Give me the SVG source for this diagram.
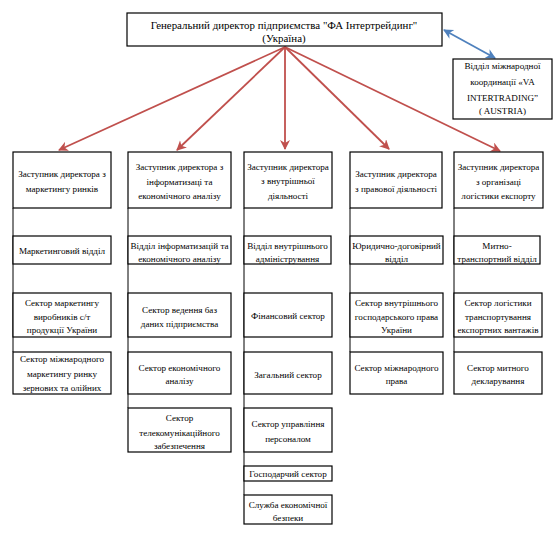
<svg xmlns="http://www.w3.org/2000/svg" width="557" height="538" viewBox="0 0 557 538">
<style>
.b{fill:#fff;stroke:#000;stroke-width:1.2}
text{font-family:'Liberation Serif','Times New Roman',serif;fill:#000;text-anchor:middle}
.t{font-size:9.1px}
.tt{font-size:10.9px}
.v{stroke:#000;stroke-width:1;fill:none}
.r{stroke:#c0504d;stroke-width:1.8;fill:none;marker-end:url(#ar)}
.bl{stroke:#4f81bd;stroke-width:1.8;fill:none;marker-end:url(#ab);marker-start:url(#ab)}
</style>
<defs>
<marker id="ar" markerUnits="userSpaceOnUse" markerWidth="12" markerHeight="12" refX="9" refY="5" orient="auto">
<path d="M0,0 L10,5 L0,10 L3,5 Z" fill="#c0504d"/>
</marker>
<marker id="ab" markerUnits="userSpaceOnUse" markerWidth="12" markerHeight="12" refX="9" refY="5" orient="auto-start-reverse">
<path d="M0,0 L10,5 L0,10 L3,5 Z" fill="#4f81bd"/>
</marker>
</defs>
<rect width="557" height="538" fill="#fff"/>

<g id="connectors">
<line class="v" x1="13" y1="208" x2="13" y2="352"/>
<line class="v" x1="128" y1="208" x2="128" y2="408"/>
<line class="v" x1="244" y1="208" x2="244" y2="495"/>
<line class="v" x1="350" y1="208" x2="350" y2="352"/>
<line class="v" x1="454" y1="208" x2="454" y2="352"/>
<line class="r" x1="285" y1="47" x2="59" y2="150"/>
<line class="r" x1="285" y1="47" x2="177" y2="150"/>
<line class="r" x1="285" y1="47" x2="285" y2="149"/>
<line class="r" x1="285" y1="47" x2="389" y2="149"/>
<line class="r" x1="285" y1="47" x2="500" y2="151"/>
<line class="bl" x1="444" y1="30" x2="495" y2="58"/>
</g>

<g id="gd">
<rect class="b" x="127" y="13" width="315" height="33"/>
<text class="tt" x="284" y="28.5">Генеральний директор підприємства "ФА Інтертрейдинг"</text>
<text class="tt" x="284" y="41.5">(Україна)</text>
</g>

<g id="intl">
<rect class="b" x="453" y="59" width="99" height="60"/>
<text class="t" x="502.5" y="68.5">Відділ міжнародної</text>
<text class="t" x="502.5" y="85">координації «VA</text>
<text class="t" x="502.5" y="100.5">INTERTRADING”</text>
<text class="t" x="502.5" y="113.5">( AUSTRIA)</text>
</g>

<g id="h1">
<rect class="b" x="13" y="152" width="98" height="56"/>
<text class="t" x="62" y="176.5">Заступник директора з</text>
<text class="t" x="62" y="191.5">маркетингу ринків</text>
</g>
<g id="h2">
<rect class="b" x="128" y="152" width="103" height="56"/>
<text class="t" x="179.5" y="169.5">Заступник директора з</text>
<text class="t" x="179.5" y="184.5">інформатизаці та</text>
<text class="t" x="179.5" y="198.5">економічного аналізу</text>
</g>
<g id="h3">
<rect class="b" x="244" y="152" width="88" height="56"/>
<text class="t" x="288" y="169.5">Заступник директора</text>
<text class="t" x="288" y="184">з внутрішньої</text>
<text class="t" x="288" y="198.5">діяльності</text>
</g>
<g id="h4">
<rect class="b" x="350" y="152" width="92" height="56"/>
<text class="t" x="396" y="176.5">Заступник директора</text>
<text class="t" x="396" y="191.5">з правової діяльності</text>
</g>
<g id="h5">
<rect class="b" x="454" y="152" width="89" height="56"/>
<text class="t" x="498.5" y="169.5">Заступник директора</text>
<text class="t" x="498.5" y="184.5">з організаці</text>
<text class="t" x="498.5" y="198.5">логістики експорту</text>
</g>

<g id="c1r1">
<rect class="b" x="13" y="236" width="98" height="28"/>
<text class="t" x="62" y="253.5">Маркетинговий відділ</text>
</g>
<g id="c1r2">
<rect class="b" x="13" y="293" width="98" height="44"/>
<text class="t" x="62" y="305.5">Сектор маркетингу</text>
<text class="t" x="62" y="319.5">виробників с/т</text>
<text class="t" x="62" y="332.5">продукції України</text>
</g>
<g id="c1r3">
<rect class="b" x="13" y="352" width="98" height="42"/>
<text class="t" x="62" y="361.5">Сектор міжнародного</text>
<text class="t" x="62" y="376.5">маркетингу ринку</text>
<text class="t" x="62" y="390.5">зернових та олійних</text>
</g>

<g id="c2r1">
<rect class="b" x="128" y="236" width="103" height="28"/>
<text class="t" x="179.5" y="248.5">Відділ інформатизацій та</text>
<text class="t" x="179.5" y="261.5">економічного аналізу</text>
</g>
<g id="c2r2">
<rect class="b" x="128" y="293" width="103" height="44"/>
<text class="t" x="179.5" y="312.5">Сектор ведення баз</text>
<text class="t" x="179.5" y="326.5">даних підприємства</text>
</g>
<g id="c2r3">
<rect class="b" x="128" y="352" width="103" height="42"/>
<text class="t" x="179.5" y="370.5">Сектор економічного</text>
<text class="t" x="179.5" y="383.5">аналізу</text>
</g>
<g id="c2r4">
<rect class="b" x="128" y="408" width="103" height="44"/>
<text class="t" x="179.5" y="420.5">Сектор</text>
<text class="t" x="179.5" y="435.5">телекомунікаційного</text>
<text class="t" x="179.5" y="448.5">забезпечення</text>
</g>

<g id="c3r1">
<rect class="b" x="244" y="236" width="87" height="28"/>
<text class="t" x="287.5" y="248.5">Відділ внутрішнього</text>
<text class="t" x="287.5" y="261.5">адміністрування</text>
</g>
<g id="c3r2">
<rect class="b" x="244" y="293" width="88" height="44"/>
<text class="t" x="288" y="318.5">Фінансовий  сектор</text>
</g>
<g id="c3r3">
<rect class="b" x="244" y="352" width="88" height="42"/>
<text class="t" x="288" y="377.5">Загальний сектор</text>
</g>
<g id="c3r4">
<rect class="b" x="244" y="408" width="88" height="44"/>
<text class="t" x="288" y="426.5">Сектор управління</text>
<text class="t" x="288" y="441.5">персоналом</text>
</g>
<g id="c3r5">
<rect class="b" x="244" y="466" width="88" height="15"/>
<text class="t" x="288" y="477">Господарчий сектор</text>
</g>
<g id="c3r6">
<rect class="b" x="244" y="495" width="88" height="29"/>
<text class="t" x="288" y="507.5">Служба економічної</text>
<text class="t" x="288" y="520.5">безпеки</text>
</g>

<g id="c4r1">
<rect class="b" x="350" y="236" width="93" height="28"/>
<text class="t" x="396.5" y="248.5">Юридично-договірний</text>
<text class="t" x="396.5" y="261.5">відділ</text>
</g>
<g id="c4r2">
<rect class="b" x="350" y="293" width="93" height="44"/>
<text class="t" x="396.5" y="305.5">Сектор внутрішнього</text>
<text class="t" x="396.5" y="319.5">господарського права</text>
<text class="t" x="396.5" y="332.5">України</text>
</g>
<g id="c4r3">
<rect class="b" x="350" y="352" width="93" height="42"/>
<text class="t" x="396.5" y="370.5">Сектор міжнародного</text>
<text class="t" x="396.5" y="383.5">права</text>
</g>

<g id="c5r1">
<rect class="b" x="454" y="236" width="86" height="28"/>
<text class="t" x="497" y="248.5">Митно-</text>
<text class="t" x="497" y="261.5">транспортний відділ</text>
</g>
<g id="c5r2">
<rect class="b" x="454" y="293" width="88" height="44"/>
<text class="t" x="498" y="305.5">Сектор логістики</text>
<text class="t" x="498" y="319.5">транспортування</text>
<text class="t" x="498" y="333">експортних вантажів</text>
</g>
<g id="c5r3">
<rect class="b" x="454" y="352" width="88" height="42"/>
<text class="t" x="498" y="370.5">Сектор митного</text>
<text class="t" x="498" y="384">декларування</text>
</g>
</svg>
